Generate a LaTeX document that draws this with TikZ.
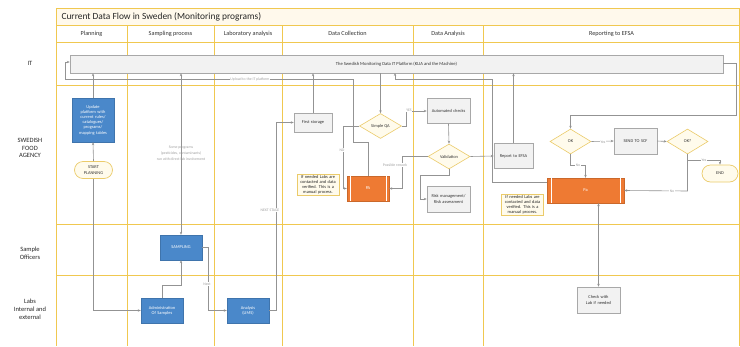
\documentclass[tikz,border=0pt]{standalone}
\usepackage{fontspec}
\setmainfont{Carlito}
\usetikzlibrary{shapes.geometric,shapes.misc,arrows.meta}
\definecolor{gridc}{HTML}{F0C850}
\definecolor{titlef}{HTML}{FFF9EC}
\definecolor{blueC}{HTML}{4A88CA}
\definecolor{orangeC}{HTML}{EE7A33}
\definecolor{grayF}{HTML}{F2F2F2}
\definecolor{grayD}{HTML}{A8A8A8}
\definecolor{yelF}{HTML}{FFFBEC}
\definecolor{yelD}{HTML}{EBCB6A}
\definecolor{lineC}{HTML}{939393}
\definecolor{lblC}{HTML}{A0A0A0}
\newcommand\boxfont{\fontsize{4.4}{5.2}\selectfont}
\newcommand\lblfont{\fontsize{3.8}{4.4}\selectfont}
\begin{document}
\begin{tikzpicture}[x=1pt,y=-1pt,
  gridline/.style={draw=gridc,line width=0.95pt},
  lanelbl/.style={font=\fontsize{6.5}{7.8}\selectfont,align=center,text=black!85},
  headlbl/.style={font=\fontsize{6.2}{7}\selectfont,text=black!80},
  bluebox/.style={rectangle,fill=blueC,draw=blueC!85!black,line width=0.4pt,text=white,font=\boxfont,align=center,text width=39,inner sep=1,minimum width=42,minimum height=25},
  graybox/.style={rectangle,fill=grayF,draw=grayD,line width=0.5pt,text=black!80,font=\boxfont,align=center,text width=40,inner sep=1,minimum width=43,minimum height=25},
  orangebox/.style={rectangle,fill=orangeC,draw=orangeC!85!black,line width=0.4pt,text=white,font=\boxfont,align=center,inner sep=1,minimum height=25},
  decision/.style={diamond,fill=yelF,draw=yelD,line width=0.6pt,font=\boxfont,text=black!80,inner sep=0,minimum width=42,minimum height=25},
  terminal/.style={rounded rectangle,fill=yelF,draw=yelD,line width=0.7pt,font=\boxfont,text=black!80,align=center,inner sep=1,minimum width=40,minimum height=17},
  notebox/.style={rectangle,fill=yelF,draw=yelD,line width=0.6pt,font=\boxfont,text=black!85,align=center,text width=40,inner sep=1,minimum width=42,minimum height=21},
  conn/.style={draw=lineC,line width=0.6pt,-{Stealth[length=3pt,width=2.4pt]}},
  bconn/.style={draw=lineC,line width=0.6pt,{Stealth[length=3pt,width=2.4pt]}-{Stealth[length=3pt,width=2.4pt]}},
  lbl/.style={font=\lblfont,text=lblC,align=center,inner sep=0.5}
]
\useasboundingbox (0,0) rectangle (740,346);
\fill[white] (0,0) rectangle (740,346);

% ---- swimlane grid ----
\fill[titlef] (56,8) rectangle (740,25);
\draw[gridline] (56,8) -- (740,8);
\draw[gridline] (56,25) -- (740,25);
\draw[gridline] (56,42) -- (740,42);
\draw[gridline] (56,85) -- (740,85);
\draw[gridline] (56,224) -- (740,224);
\draw[gridline] (56,275) -- (740,275);
\draw[gridline] (56,8) -- (56,346);
\foreach \xx in {127,214,282,413,483} {\draw[gridline] (\xx,25) -- (\xx,346);}
\draw[gridline] (739.5,8) -- (739.5,346);

\node[anchor=west,font=\fontsize{9.4}{11}\selectfont,text=black!85] (title) at (58,16.5) {Current Data Flow in Sweden (Monitoring programs)};
\node[headlbl] (h1) at (91.5,33.5) {Planning};
\node[headlbl] (h2) at (170.5,33.5) {Sampling process};
\node[headlbl] (h3) at (248,33.5) {Laboratory analysis};
\node[headlbl] (h4) at (347.5,33.5) {Data Collection};
\node[headlbl] (h5) at (448,33.5) {Data Analysis};
\node[headlbl] (h6) at (611.5,33.5) {Reporting to EFSA};

\node[lanelbl] (l1) at (30,63) {IT};
\node[lanelbl] (l2) at (30,148) {SWEDISH\\FOOD\\AGENCY};
\node[lanelbl] (l3) at (30,253) {Sample\\Officers};
\node[lanelbl] (l4) at (30,309) {Labs\\Internal and\\external};

% ---- nodes ----
\node[rectangle,fill=grayF,draw=grayD,line width=0.5pt,minimum width=653,minimum height=18,font=\fontsize{4.6}{5.4}\selectfont,text=black!80] (itbar) at (396.5,64) {The Swedish Monitoring Data IT Platform (KLIA and the Machine)};

\node[bluebox,minimum height=44,text width=30] (upd) at (93,120) {Update platform with current rules/ catalogues/ programs/ mapping tables};
\node[terminal] (start) at (93.5,170) {START\\PLANNING};
\node[bluebox] (samp) at (181,247.5) {SAMPLING};
\node[bluebox] (admin) at (162,310.5) {Administration\\Of Samples};
\node[bluebox] (anal) at (248,310.5) {Analysis\\(LIMS)};

\node[graybox,minimum width=38,minimum height=19,text width=35] (fst) at (313,122.5) {First storage};
\node[decision] (sqa) at (380.5,126) {Simple QA};
\node[graybox] (auto) at (448.5,111) {Automated checks};
\node[decision] (val) at (449,156.5) {Validation};
\node[graybox,minimum height=26] (risk) at (448.5,199) {Risk management/ Risk assessment};
\node[orangebox,minimum width=42] (pa) at (368,188.5) {PA};
\draw[white,line width=0.4pt] ([xshift=3]pa.north west) -- ([xshift=3]pa.south west) ([xshift=-3]pa.north east) -- ([xshift=-3]pa.south east);
\node[notebox] (note1) at (318,185) {If needed Labs are contacted and data verified. This is a manual process.};

\node[graybox,minimum width=39,text width=36] (rep) at (513.5,156) {Report to EFSA};
\node[decision,minimum width=41] (ok) at (570.5,141.5) {OK};
\node[graybox,minimum height=26] (scf) at (635.5,141) {SEND TO SCF};
\node[decision,minimum width=41] (ok2) at (687.5,141.5) {OK?};
\node[terminal,minimum width=38] (endn) at (720,173.5) {END};
\node[orangebox,minimum width=77] (pa2) at (585.5,190.5) {Pa};
\draw[white,line width=0.4pt] ([xshift=4]pa2.north west) -- ([xshift=4]pa2.south west) ([xshift=-4]pa2.north east) -- ([xshift=-4]pa2.south east);
\node[notebox,minimum height=20] (note2) at (522.5,205) {If needed Labs are contacted and data verified. This is a manual process.};
\node[graybox,minimum height=26] (chk) at (598.5,300) {Check with Lab if needed};

\node[lbl,font=\fontsize{3.8}{5.8}\selectfont] (txt1) at (181,153) {Some programs\\(pesticides, contaminants)\\run with direct lab involvement};

% ---- connectors ----
\draw[conn] (start.north) -- (upd.south);
\draw[conn] (upd.north) -- (upd.north |- itbar.south);
\draw[conn] (start.south) -- (93.5,310.5) -- (admin.west);
\draw[conn] (admin.north) -- (162,285) -| (samp.south);
\draw[bconn] (samp.north |- itbar.south) -- (samp.north);
\draw[conn] (samp.east) -- (208,247.5) -- (208,310.5) -- (anal.west);
\node[lbl,fill=white] (lblnext) at (207,284) {Next};
\draw[conn] (anal.east) -- (276,310.5) -- (276,122.5) -- (fst.west);
\node[lbl,fill=white] (lblns) at (270,210) {NEXT STAGE};
\draw[conn] (fst.north) -- (fst.north |- itbar.south);
\draw[conn] (sqa.north |- itbar.south) -- (sqa.north);
\draw[conn] (sqa.west) -- (343,126) -- (343,188.5) -- (pa.west);
\node[lbl,fill=white] (lblno1) at (342,150) {NO};
\draw[conn] (sqa.east) -- (406,126) -- (406,111) -- (auto.west);
\node[lbl,fill=white] (lblyes1) at (409,110.5) {YES};
\draw[conn] (auto.south) -- (val.north);
\draw[conn] (val.west) -- (402,156.5) -- (402,188.5) -- (pa.east);
\node[lbl,fill=white] (lblrw) at (395,165) {Possible rework};
\draw[conn] (val.south) -- (449,175) -- (420,175) -- (420,199) -- (risk.west);
\draw[conn] (val.east) -- (rep.west);
\draw[conn] (rep.north) -- (rep.north |- itbar.south);
\coordinate (itleft) at (itbar.west |- 0,62);
\draw[conn] (pa.north) -- (368,142) -- (353,142) -- (353,79) -- (65,79) -- (65,62) -- (itleft);
\node[lbl,fill=white] (lblup) at (250,79) {Upload to the IT platform};
\coordinate (itpa2) at (395,73);
\draw[conn] (pa2.west |- 0,182) -- (492,182) -- (492,79) -- (395,79) -- (itpa2);
\draw[conn] (itbar.east |- 0,63) -- (736,63) -- (736,115) -- (570.5,115) -- (ok.north);
\draw[conn] (ok.east) -- (scf.west);
\node[lbl,fill=white] (lblyes2) at (603,142) {Yes};
\draw[conn] (scf.east) -- (ok2.west);
\draw[conn] (ok2.south) -- (687.5,160) -- (720,160) -- (endn.north);
\node[lbl,fill=white] (lblyes3) at (704,160) {Yes};
\draw[conn] (ok2.south) -- (687.5,191) -- (pa2.east);
\node[lbl,fill=white] (lblno3) at (672,191) {No};
\draw[conn] (ok.south) -- (570.5,165) -- (585.5,165) -- (pa2.north);
\node[lbl,fill=white] (lblno2) at (578,165) {No};
\draw[bconn] (pa2.south -| chk.north) -- (chk.north);
\end{tikzpicture}
\end{document}
